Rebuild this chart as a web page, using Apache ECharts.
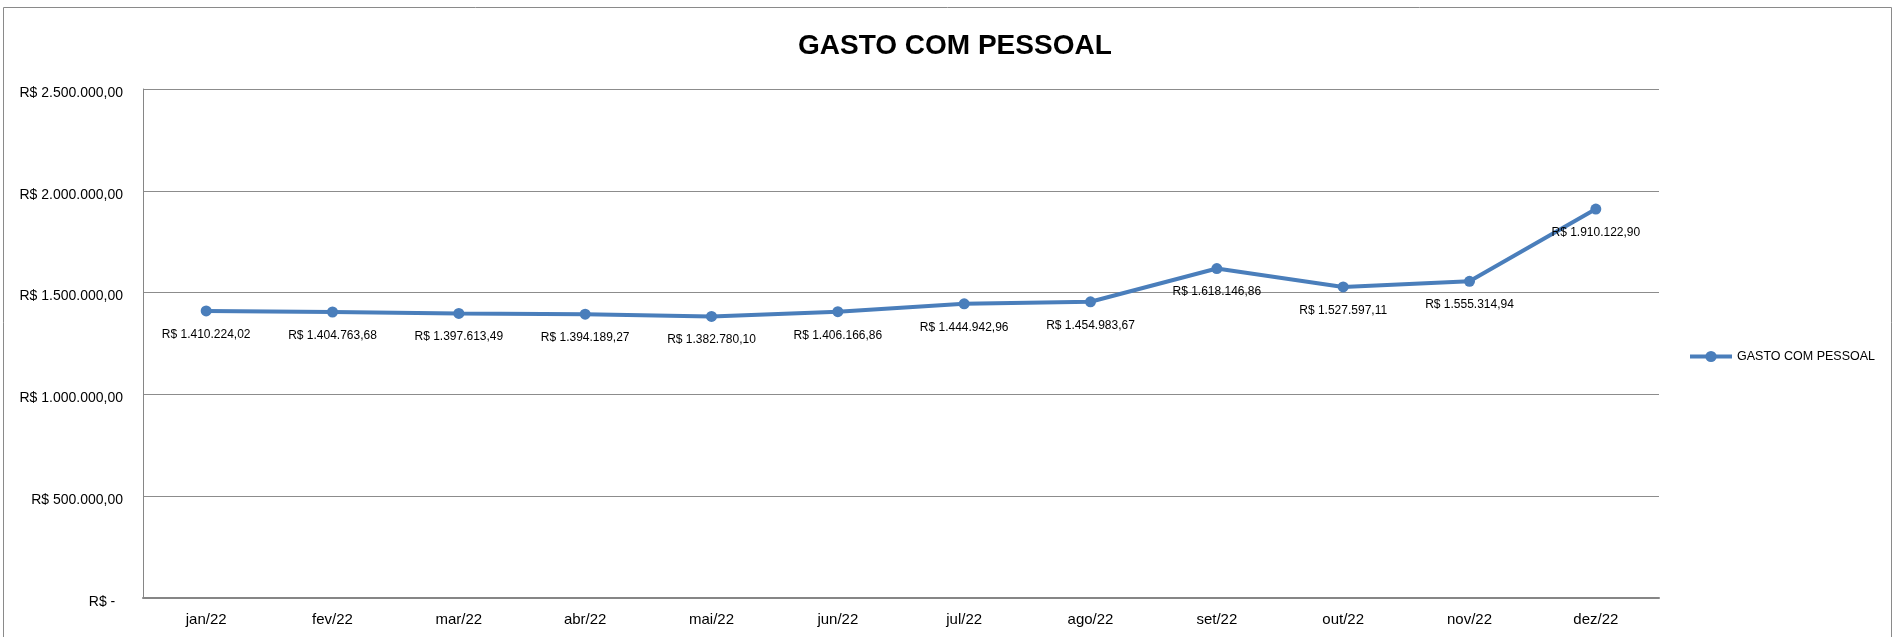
<!DOCTYPE html>
<html>
<head>
<meta charset="utf-8">
<style>
html,body{margin:0;padding:0;background:#fff;}
#c{width:1895px;height:637px;}
</style>
<script src="https://cdn.jsdelivr.net/npm/echarts@6/dist/echarts.min.js"></script>
</head>
<body>
<div id="c"></div>
<script>
const categories = ['jan/22','fev/22','mar/22','abr/22','mai/22','jun/22','jul/22','ago/22','set/22','out/22','nov/22','dez/22'];
const gastoPessoal = [1410224.02,1404763.68,1397613.49,1394189.27,1382780.10,1406166.86,1444942.96,1454983.67,1618146.86,1527597.11,1555314.94,1910122.90];
const seriesName = 'GASTO COM PESSOAL';
const titleText = 'GASTO COM PESSOAL';
const yMin = 0, yMax = 2500000, yStep = 500000;

function brl(v){
  if (v === 0) return 'R$ -  ';
  const fixed = v.toFixed(2);
  const parts = fixed.split('.');
  const intPart = parts[0].replace(/\B(?=(\d{3})+(?!\d))/g, '.');
  return 'R$ ' + intPart + ',' + parts[1];
}

const font = 'Liberation Sans, Arial, sans-serif';
const chart = echarts.init(document.getElementById('c'), null, {renderer:'canvas'});
chart.setOption({
  backgroundColor: '#ffffff',
  animation: false,
  title: {
    text: titleText,
    left: 793,
    top: 27,
    textStyle: {fontFamily: font, fontSize: 28, fontWeight: 'bold', color: '#000'}
  },
  graphic: [{
    type: 'rect',
    shape: {x: 3.5, y: 7.5, width: 1888, height: 640},
    style: {fill: 'none', stroke: '#8a8a8a', lineWidth: 1},
    silent: true
  }],
  legend: {
    left: 1683,
    top: 345,
    itemWidth: 42,
    itemHeight: 14,
    lineStyle: {width: 4},
    textStyle: {fontFamily: font, fontSize: 12.5, color: '#000'},
    data: [seriesName]
  },
  grid: {left: 143, right: 236, top: 89, bottom: 39, containLabel: false},
  xAxis: {
    type: 'category',
    data: categories,
    boundaryGap: true,
    axisLine: {lineStyle: {color: '#868686', width: 2}},
    axisTick: {show: false},
    axisLabel: {fontFamily: font, fontSize: 15, color: '#000', margin: 14}
  },
  yAxis: {
    type: 'value',
    min: yMin, max: yMax, interval: yStep,
    axisLine: {show: true, lineStyle: {color: '#868686', width: 1}},
    axisTick: {show: false},
    splitLine: {lineStyle: {color: '#8c8c8c', width: 1}},
    axisLabel: {fontFamily: font, fontSize: 14, color: '#000', margin: 20, verticalAlign: 'top', lineHeight: 8, formatter: brl}
  },
  series: [{
    name: seriesName,
    type: 'line',
    data: gastoPessoal,
    symbol: 'circle',
    symbolSize: 11,
    lineStyle: {color: '#4a7ebb', width: 4},
    itemStyle: {color: '#4a7ebb'},
    label: {
      show: true,
      position: 'bottom',
      distance: 12,
      fontFamily: font,
      fontSize: 12,
      color: '#000',
      formatter: p => brl(p.value)
    }
  }]
});
</script>
</body>
</html>
